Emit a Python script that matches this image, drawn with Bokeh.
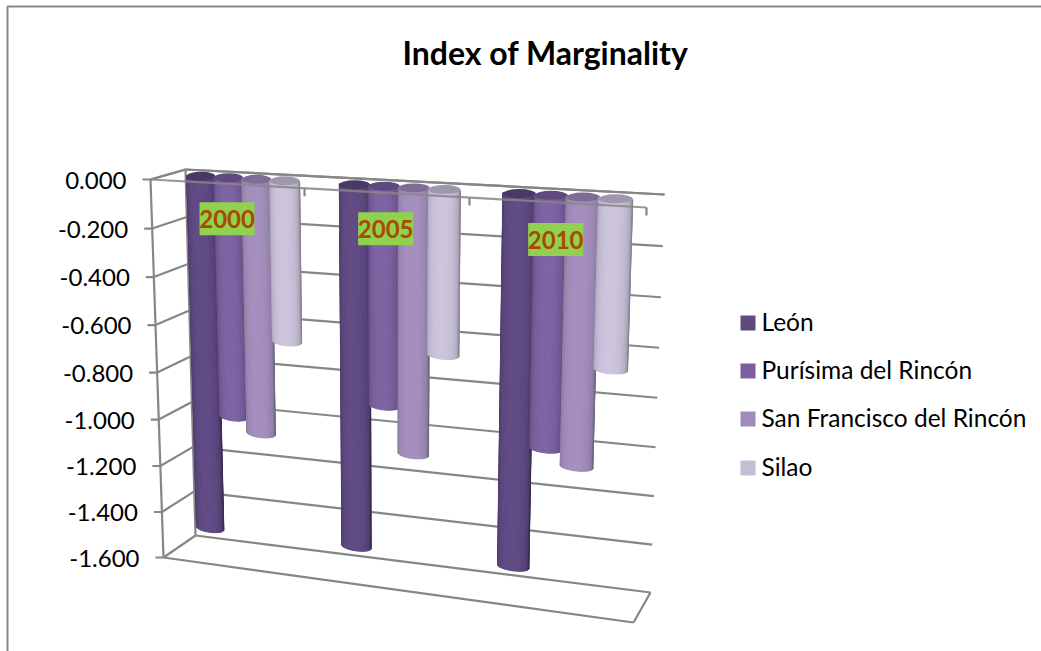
from bokeh.plotting import figure
from bokeh.embed import file_html
from bokeh.resources import INLINE
from bokeh.core.properties import value as fixed
import math

# ---- chart data -------------------------------------------------------
title = "Index of Marginality"
years = ["2000", "2005", "2010"]
series = ["León", "Purísima del Rincón", "San Francisco del Rincón", "Silao"]
leon = [-1.50, -1.50, -1.50]
purisima = [-1.00, -0.89, -1.00]
san_francisco = [-1.06, -1.08, -1.06]
silao = [-0.66, -0.66, -0.66]
tick_values = [0.0, -0.2, -0.4, -0.6, -0.8, -1.0, -1.2, -1.4, -1.6]
tick_labels = ["0.000", "-0.200", "-0.400", "-0.600", "-0.800", "-1.000", "-1.200", "-1.400", "-1.600"]

# ---- styles ------------------------------------------------------------
FONT = "Lato"
GRID = "#868686"
GRID_W = 2.2
edge_col = [(58, 44, 84), (72, 56, 100), (112, 102, 130), (136, 132, 150)]
mid_col = [(98, 76, 134), (128, 100, 164), (166, 144, 192), (206, 198, 222)]
cap_col = ["#4a3866", "#5f4a80", "#7d6c96", "#9f97ae"]
legend_col = ["#5f4a80", "#7c5f9c", "#a08cb8", "#c5bcd6"]

# ---- the box of the 3-D chart, and its projection ------------------------
C = {(0, 0, 0): (150, 179), (1, 0, 0): (646, 207), (0, 1, 0): (185, 169), (1, 1, 0): (664, 194),
     (0, 0, 1): (163, 557), (1, 0, 1): (633, 622), (0, 1, 1): (195, 535), (1, 1, 1): (650, 592)}
VMIN = -1.6
RX, RY = 1.11, 0.958


def project(c, depth, val):
    """c: 0..1 along the categories, depth: 0 front..1 back, val: chart value."""
    f = val / VMIN
    u = c / (c + (1 - c) * RX)
    v = f / (f + (1 - f) * RY)
    out = []
    for k in (0, 1):
        s = 0.0
        for a, wa in ((0, 1 - u), (1, u)):
            for b, wb in ((0, 1 - depth), (1, depth)):
                for d, wd in ((0, 1 - v), (1, v)):
                    s += C[(a, b, d)][k] * wa * wb * wd
        out.append(s)
    return out


p = figure(width=1041, height=651, x_range=(0, 1041), y_range=(651, 0), output_backend="svg",
           toolbar_location=None, min_border=0, outline_line_color=None,
           background_fill_color="white", border_fill_color="white")
p.xaxis.visible = False
p.yaxis.visible = False
p.grid.visible = False

# frame: the picture is cropped, only the top and left edges show
p.line([7, 7, 1041], [651, 6, 6], line_color="#888888", line_width=2)

# walls
xs, ys = [], []
def seg(a, b):
    pa, pb = project(*a), project(*b)
    xs.append([pa[0], pb[0]])
    ys.append([pa[1], pb[1]])

for tv in tick_values:
    seg((0, 1, tv), (1, 1, tv))
    seg((0, 0, tv), (0, 1, tv))
seg((0, 0, 0), (0, 0, VMIN))
seg((0, 1, 0), (0, 1, VMIN))
seg((0, 0, VMIN), (1, 0, VMIN))
seg((1, 0, VMIN), (1, 1, VMIN))
p.multi_line(xs, ys, line_color=GRID, line_width=GRID_W)
# tick marks on the value axis
tx, ty = [], []
for tv in tick_values:
    q = project(0, 0, tv)
    tx.append([q[0] - 8, q[0]])
    ty.append([q[1], q[1]])
p.multi_line(tx, ty, line_color=GRID, line_width=GRID_W)

# cylinders, left to right
all_vals = [leon, purisima, san_francisco, silao]
n_cat = len(years)
STEP = 0.0615
R = 0.0322
N = 22
for i in range(n_cat):
    center = (i + 0.5) / n_cat
    for j in range(len(series)):
        val = all_vals[j][i]
        cc = center + (j - 1.5) * STEP
        qx, qy = [], []
        colors = []
        for k in range(N):
            t0 = -math.pi / 2 + math.pi * k / N
            t1 = -math.pi / 2 + math.pi * (k + 1) / N
            tm = (t0 + t1) / 2
            c0 = cc + R * math.sin(t0)
            c1 = cc + R * math.sin(t1)
            top0, top1 = project(c0, 0.5, 0), project(c1, 0.5, 0)
            bot0, bot1 = project(c0, 0.5, val), project(c1, 0.5, val)
            e0 = 4.2 * math.cos(t0)
            e1 = 4.2 * math.cos(t1)
            qx.append([top0[0], top1[0], bot1[0], bot0[0]])
            qy.append([top0[1], top1[1], bot1[1] + e1, bot0[1] + e0])
            # light falls a little to the left of the axis of the tube
            m = max(0.0, math.cos(tm + 0.12)) ** 0.55
            colors.append("#%02x%02x%02x" % tuple(int(edge_col[j][q] + (mid_col[j][q] - edge_col[j][q]) * m) for q in range(3)))
        p.patches(qx, qy, fill_color=colors, line_color=colors, line_width=1.0)
        # upper cap
        el, er = project(cc - R, 0.5, 0), project(cc + R, 0.5, 0)
        cx, cy = (el[0] + er[0]) / 2, (el[1] + er[1]) / 2
        p.ellipse([cx], [cy], width=er[0] - el[0], height=9, fill_color=cap_col[j], line_color=None)

# the front top edge passes across the tubes
fa, fb = project(0, 0, 0), project(1, 0, 0)
ba = project(0, 1, 0)
bb = project(1, 1, 0)
p.line([ba[0], bb[0]], [ba[1], bb[1]], line_color=GRID, line_width=GRID_W)
p.line([fa[0], ba[0]], [fa[1], ba[1]], line_color=GRID, line_width=GRID_W)
p.line([fa[0], fb[0]], [fa[1], fb[1]], line_color=GRID, line_width=GRID_W, line_alpha=0.85)
# category tick marks
mx, my = [], []
for i in range(1, n_cat + 1):
    q = project(i / n_cat, 0, 0)
    mx.append([q[0], q[0]])
    my.append([q[1], q[1] + 8])
p.multi_line(mx, my, line_color=GRID, line_width=GRID_W)

# value labels
lx, ly = [], []
for tv in tick_values:
    q = project(0, 0, tv)
    lx.append(q[0] - 24)
    ly.append(q[1] + 0.5)
p.text(lx, ly, text=tick_labels, text_font=fixed(FONT), text_font_size="24px", text_color="#000000",
       text_align="right", text_baseline="middle")

# year labels on green boxes
for i, y in enumerate(years):
    q = project((i + 0.5) / n_cat, 0, -0.14)
    p.rect([q[0]], [q[1]], width=55, height=33, fill_color="#92d050", line_color=None)
    p.text([q[0]], [q[1]], text=[y], text_font=fixed(FONT), text_font_style="bold", text_font_size="24px",
           text_color="#a64b00", text_align="center", text_baseline="middle")

# title
p.text([545], [52], text=[title], text_font=fixed(FONT), text_font_style="bold", text_font_size="32px",
       text_color="#000000", text_align="center", text_baseline="middle")

# legend
LEG_Y = [322.5, 370.5, 418.5, 467.5]
for j, s in enumerate(series):
    p.rect([747.5], [LEG_Y[j]], width=15, height=15, fill_color=legend_col[j], line_color=None)
    p.text([761], [LEG_Y[j] - 2], text=[s], text_font=fixed(FONT), text_font_size="24.5px", text_color="#000000",
           text_align="left", text_baseline="middle")

open("out.html", "w").write(file_html(p, INLINE))
